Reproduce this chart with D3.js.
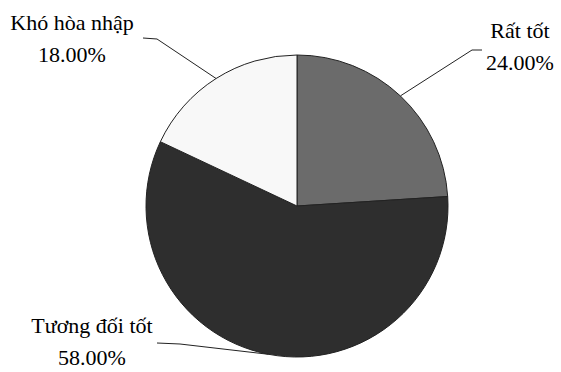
<!DOCTYPE html>
<html>
<head>
<meta charset="utf-8">
<script src="https://cdn.jsdelivr.net/npm/d3@7"></script>
<style>
  body { margin: 0; background: #fff; }
  svg { display: block; }
</style>
</head>
<body>
<svg id="chart" width="561" height="372"></svg>
<script>
// data (escaped so the Vietnamese letters stay precomposed)
var categories = ["R\u1ea5t t\u1ed1t", "T\u01b0\u01a1ng \u0111\u1ed1i t\u1ed1t", "Kh\u00f3 h\u00f2a nh\u1eadp"];
var values = [24, 58, 18];
var colors = ["#6b6b6b", "#2e2e2e", "#f8f8f8"];

// label layout: elbow point, line end, text centre + first baseline
var labelPos = [
    {elbow: [472, 50], end: [482, 50], tx: 520, ty: 38},
    {elbow: [180, 344], end: [157, 343], tx: 92, ty: 333},
    {elbow: [157, 39], end: [143, 38], tx: 72, ty: 30}
];

var cx = 297, cy = 206, r = 151;

var svg = d3.select("#chart");
var g = svg.append("g").attr("transform", "translate(" + cx + "," + cy + ")");

var pie = d3.pie().sort(null).value(function(d){ return d; });
var arcs = pie(values);
var arc = d3.arc().innerRadius(0).outerRadius(r);

g.selectAll("path").data(arcs).enter().append("path")
    .attr("d", arc)
    .style("fill", function(d, i){ return colors[i]; })
    .style("stroke", "#222")
    .style("stroke-width", 1);

// leader lines + labels
arcs.forEach(function(d, i){
    var a = (d.startAngle + d.endAngle) / 2;
    var px = cx + r * Math.sin(a), py = cy - r * Math.cos(a);
    var lp = labelPos[i];
    svg.append("polyline")
        .attr("points", [[px, py], lp.elbow, lp.end].map(function(p){ return p.join(","); }).join(" "))
        .style("fill", "none")
        .style("stroke", "#222")
        .style("stroke-width", 1);
    // one text element per line
    [categories[i], d3.format(".2f")(values[i]) + "%"].forEach(function(s, k){
        svg.append("text")
            .attr("x", lp.tx)
            .attr("y", lp.ty + k * 32)
            .attr("text-anchor", "middle")
            .attr("font-family", "'Liberation Serif'")
            .attr("font-size", 22)
            .text(s);
    });
});
</script>
</body>
</html>
